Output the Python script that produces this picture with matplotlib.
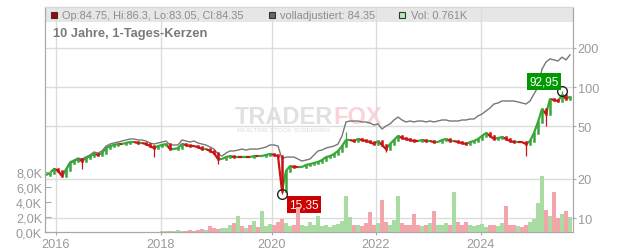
import matplotlib
matplotlib.use('Agg')
import numpy as np
from matplotlib import pyplot as plt
from matplotlib.patches import Rectangle
from matplotlib.collections import LineCollection
from matplotlib.ticker import NullLocator, FixedLocator, FixedFormatter

plt.rcParams['font.family'] = ['Liberation Sans', 'DejaVu Sans']

# ~ one point every few trading days
close = [21.3, 22.1, 23.7, 22.9, 20.9, 23.3, 26.3, 27.2, 28.2, 27.2,
         28.7, 29.7, 30.8, 30.3, 31.3, 34.2, 35.4, 36.1, 36.7, 36.7,
         37.4, 38.0, 38.0, 37.4, 37.4, 36.7, 35.4, 34.2, 35.4, 36.1,
         36.7, 33.6, 33.6, 34.2, 36.7, 36.1, 35.4, 35.4, 34.8, 33.6,
         33.6, 32.5, 31.3, 28.2, 28.2, 29.2, 29.7, 29.2, 29.2, 29.2,
         29.2, 29.2, 29.7, 29.7, 29.7, 30.3, 30.8, 30.3, 29.7, 16.1,
         22.9, 24.9, 24.5, 24.5, 24.5, 25.4, 25.8, 26.3, 26.8, 27.7,
         29.2, 29.7, 30.8, 32.5, 35.4, 39.4, 39.4, 38.7, 40.1, 39.4,
         38.7, 38.0, 36.7, 38.7, 36.1, 33.6, 36.7, 39.4, 42.3, 40.8,
         40.1, 39.4, 38.7, 38.7, 39.4, 38.7, 38.7, 38.0, 38.0, 39.4,
         40.1, 38.7, 38.7, 38.0, 37.4, 36.7, 38.0, 38.7, 40.1, 42.3,
         44.6, 42.3, 40.1, 40.8, 41.5, 40.1, 38.7, 38.0, 38.0, 38.0,
         36.7, 38.7, 44.6, 54.1, 67.9, 62.2, 81.0, 79.6, 78.2, 86.9,
         81.0, 84.35]

adjusted = [21.3, 22.1, 23.7, 23.3, 21.3, 23.7, 26.8, 27.7, 28.7, 28.2,
            29.2, 30.3, 31.9, 31.3, 32.5, 35.4, 36.7, 37.4, 38.0, 38.7,
            39.4, 40.1, 40.1, 39.4, 39.4, 38.7, 37.4, 36.7, 37.4, 38.0,
            38.7, 36.1, 36.1, 36.1, 39.4, 38.7, 38.0, 38.7, 37.4, 36.7,
            36.1, 34.8, 33.6, 30.8, 29.7, 31.3, 32.5, 32.5, 33.0, 33.6,
            33.0, 33.6, 33.6, 33.6, 34.2, 34.8, 36.1, 36.1, 35.4, 28.2,
            29.2, 29.2, 29.2, 28.2, 27.2, 27.7, 28.2, 30.3, 32.5, 33.0,
            34.2, 34.8, 35.4, 36.7, 42.3, 54.1, 55.0, 55.0, 55.0, 54.1,
            54.1, 53.1, 51.3, 52.2, 47.8, 50.4, 52.2, 56.0, 59.0, 56.0,
            54.1, 55.0, 54.1, 55.0, 55.0, 54.1, 55.0, 54.1, 55.0, 56.0,
            56.0, 55.0, 55.0, 55.0, 56.0, 56.0, 57.0, 57.0, 60.1, 62.2,
            65.6, 69.2, 74.2, 75.5, 78.2, 78.2, 78.2, 78.2, 76.8, 75.5,
            74.2, 78.2, 88.4, 100.0, 137.0, 155.0, 164.0, 161.0, 158.0, 169.0,
            161.0, 176.0]

# volume in thousands
volume = [0] * 29 + [
    0.1, 0.15, 0.1, 0.2, 0.3, 0.1, 0.2, 0.3, 0.2, 0.3,
    0.4, 0.3, 0.8, 0.5, 0.4, 0.6, 0.5, 0.9, 1.2, 2.1,
    0.8, 0.6, 1.0, 1.5, 0.7, 2.8, 0.8, 1.1, 0.9, 1.4,
    1.7, 1.2, 0.8, 1.0, 3.3, 0.9, 0.8, 1.3, 0.9, 2.1,
    0.8, 1.0, 0.7, 0.9, 1.1, 1.5, 4.8, 2.0, 1.0, 0.9,
    0.8, 1.2, 2.7, 1.0, 1.2, 4.3, 1.4, 1.0, 1.6, 4.8,
    1.2, 0.9, 1.0, 2.4, 0.9, 0.8, 1.0, 1.2, 2.8, 1.0,
    0.9, 1.2, 1.0, 5.3, 1.4, 1.0, 1.3, 0.9, 0.8, 1.0,
    1.1, 0.7, 0.9, 1.0, 0.8, 1.2, 3.5, 1.0, 0.9, 0.8,
    0.7, 1.0, 1.3, 1.8, 3.9, 7.5, 3.0, 2.2, 5.3, 1.9,
    2.4, 2.8, 2.0]

# wicks that stick out
wick_idx = [9, 27, 43, 59, 75, 85, 120, 125, 129]
wick_val = [23.7, 29.2, 25.8, 15.35, 45.6, 31.9, 29.7, 50.4, 92.95]

year_pos = [2.5, 28.75, 56.5, 82.5, 108.75]
year_lbl = ['2016', '2018', '2020', '2022', '2024']
price_ticks = [10, 20, 50, 100, 200]
vol_ticks = [0, 2000, 4000, 6000, 8000]

low_i, low_v = 59, 15.35
high_i, high_v = 129, 92.95

W, H = 632, 253
fig = plt.figure(figsize=(W / 100, H / 100), dpi=100)
ax = fig.add_axes([45 / W, 20 / H, 528 / W, 225 / H])
ax2 = ax.twinx()
ax.set_zorder(2)
ax.patch.set_visible(False)

x = np.arange(len(close))
c = np.array(close)
o = np.concatenate([[close[0]], c[:-1]])
# flat stretches: alternate colours so the ribbon looks like mixed candles
up = (c > o) | ((c == o) & (x % 2 == 0))
red, green = '#c81414', '#3aa53a'
cols = [green if u else red for u in up]

# volume
vcols = ['#a9dca3' if u else '#f2a5ab' for u in up]
ax.bar(x, np.array(volume) * 1000, width=0.8, color=vcols, linewidth=0)
ax.set_ylim(0, 30000)
ax.yaxis.set_major_locator(FixedLocator(vol_ticks))
ax.yaxis.set_major_formatter(FixedFormatter([f"{v / 1000:.1f}K".replace('.', ',') for v in vol_ticks]))

# price
ax2.set_yscale('log')
ax2.set_ylim(7.82, 408)
ax2.yaxis.set_major_locator(FixedLocator(price_ticks))
ax2.yaxis.set_major_formatter(FixedFormatter([str(t) for t in price_ticks]))
ax2.yaxis.set_minor_locator(NullLocator())
ax2.grid(True, axis='y', color='#dcdcdc', lw=1)
for t in year_pos:
    ax2.axvline(t, color='#dcdcdc', lw=1, zorder=1.5)

ax2.add_patch(Rectangle((0, 1 - 15 / 225), 1, 15 / 225, transform=ax2.transAxes,
                        color='#e6e6e6', zorder=0.5, lw=0))

ax2.text(333 / W, 1 - 124 / H, 'TRADER', transform=fig.transFigure, ha='right', va='baseline',
         fontsize=17, fontweight='heavy', color='#e0e0e0', zorder=0.6)
ax2.text(333 / W, 1 - 124 / H, 'FOX', transform=fig.transFigure, ha='left', va='baseline',
         fontsize=17, fontweight='heavy', color='#f9d3d8', zorder=0.6)
ax2.text(284 / W, 1 - 131.5 / H, 'REALTIME STOCK SCREENING', transform=fig.transFigure,
         ha='center', va='baseline', fontsize=4.5, fontweight='bold', color='#e6e6e6', zorder=0.6)

ax2.plot(x, adjusted, color='#777777', lw=1.0, zorder=3)

# candle ribbon, each step coloured like its candle
segs = [[(x[i - 1], c[i - 1]), (x[i], c[i])] for i in range(1, len(c))]
ax2.add_collection(LineCollection(segs, colors=cols[1:], lw=1.6, zorder=3.5, capstyle='butt'))
ax2.vlines([x[i] for i in wick_idx], [min(wick_val[k], o[i], c[i]) for k, i in enumerate(wick_idx)],
           [max(wick_val[k], o[i], c[i]) for k, i in enumerate(wick_idx)],
           colors=[cols[i] for i in wick_idx], lw=0.9, zorder=4)
body = ax2.vlines(x, np.minimum(o, c), np.maximum(o, c), colors=cols, lw=1.8, zorder=4)
body.set_capstyle('projecting')

ax2.plot(low_i, low_v, 'o', mfc='none', mec='#222222', ms=7, mew=1, zorder=6)
ax2.plot(high_i, high_v, 'o', mfc='none', mec='#222222', ms=7, mew=1, zorder=6)
ax2.annotate('15,35', xy=(low_i, low_v), xytext=(15.8, -7.9), textcoords='offset points',
             ha='center', va='center', color='white', fontsize=8.5, zorder=7,
             bbox=dict(boxstyle='square,pad=0.22', fc='#cc0000', ec='none'))
ax2.annotate('92,95', xy=(high_i, high_v), xytext=(-13, 7.2), textcoords='offset points',
             ha='center', va='center', color='white', fontsize=8.5, zorder=7,
             bbox=dict(boxstyle='square,pad=0.22', fc='#009900', ec='none'))

ax.set_xlim(-0.25, 131.75)
ax.xaxis.set_major_locator(FixedLocator(year_pos))
ax.xaxis.set_major_formatter(FixedFormatter(year_lbl))

for a in (ax, ax2):
    for s in a.spines.values():
        s.set_color('#a8a8a8')
    a.spines['top'].set_color('#d8d8d8')
ax.tick_params(axis='y', direction='in', length=4, color='#a8a8a8', labelcolor='#9a9a9a',
               labelsize=9.2, pad=2)
ax.tick_params(axis='x', length=2, color='#a8a8a8', labelcolor='#9a9a9a', labelsize=9.2, pad=2)
ax2.tick_params(axis='y', length=2, color='#a8a8a8', labelcolor='#9a9a9a', labelsize=9.2, pad=1.5)

# legend strip
def sq(cx, fc):
    fig.patches.append(Rectangle(((cx - 3) / W, 1 - 18.5 / H), 6 / W, 6 / H, transform=fig.transFigure,
                                 fc=fc, ec='#333333', lw=0.8, zorder=5))

sq(53.7, '#b00000')
sq(271.5, '#666666')
sq(402.3, '#b8e8b8')
fig.text(62.5 / W, 1 - 19 / H, 'Op:84.75, Hi:86.3, Lo:83.05, Cl:84.35', fontsize=7.9,
         color='#8c8c8c', va='baseline')
fig.text(280 / W, 1 - 19 / H, 'volladjustiert: 84.35', fontsize=7.9, color='#8c8c8c', va='baseline')
fig.text(411 / W, 1 - 19 / H, 'Vol: 0.761K', fontsize=7.9, color='#8c8c8c', va='baseline')
fig.text(53.3 / W, 1 - 37.3 / H, '10 Jahre, 1-Tages-Kerzen', fontsize=9.3, fontweight='bold',
         color='#7a7a7a', va='baseline')

fig.savefig('out.png', dpi=100)
